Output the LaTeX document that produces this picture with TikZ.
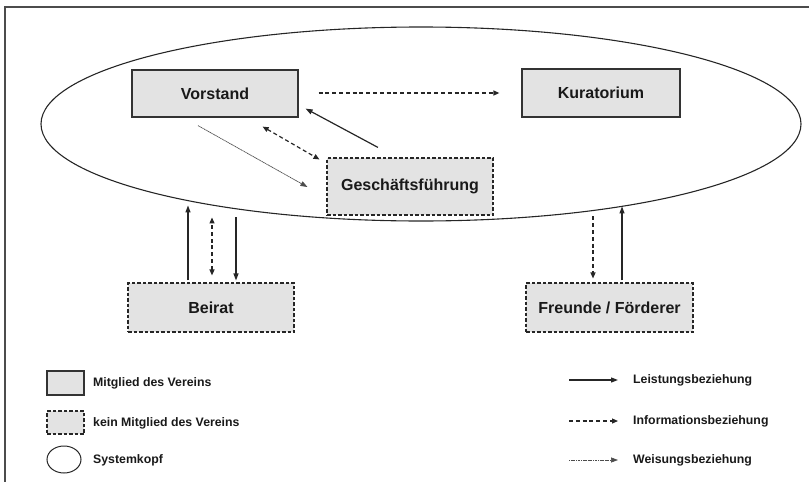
\documentclass[tikz,border=0pt]{standalone}
\usepackage{fontspec}
\setmainfont{Liberation Sans}
\usetikzlibrary{arrows.meta,calc,shapes.geometric}
\begin{document}
\begin{tikzpicture}[x=1pt,y=-1pt,
  member/.style={draw=black!80, line width=1.2pt, fill=black!11, inner sep=0pt,
    font=\fontsize{16}{18}\selectfont\bfseries, text=black!90},
  nonmember/.style={member, draw=black!85, dash pattern=on 3.5pt off 2pt, line width=1.1pt},
  leist/.style={line width=1.2pt, draw=black!85, -{Triangle[length=7pt,width=5pt]}},
  info/.style={line width=1.2pt, draw=black!85, dash pattern=on 4pt off 2.8pt, -{Triangle[length=6pt,width=5pt]}},
  infob/.style={info, {Triangle[length=6pt,width=5pt]}-{Triangle[length=6pt,width=5pt]}},
  weis/.style={line width=0.7pt, draw=black!70, dash pattern=on 1.2pt off 0.5pt, -{Triangle[length=7pt,width=5pt]}},
  legtext/.style={anchor=west, font=\fontsize{12.3}{14}\selectfont\bfseries, text=black!90, inner sep=0pt}
]
\useasboundingbox (0,0) rectangle (809,482);
\draw[line width=1.3pt, black!70] (5,482) -- (5,7) -- (809,7);

% system head
\node[draw=black!85, line width=1.1pt, ellipse, minimum width=760, minimum height=194, inner sep=0pt] (sys) at (421,124) {};

% boxes
\node[member, minimum width=166, minimum height=47] (vor) at (215,93.5) {Vorstand};
\node[member, minimum width=158, minimum height=48] (kur) at (601,93) {Kuratorium};
\node[nonmember, minimum width=166, minimum height=57] (gf) at (410,186.5) {Geschäftsführung};
\node[nonmember, minimum width=166, minimum height=49] (bei) at (211,307.5) {Beirat};
\node[nonmember, minimum width=167, minimum height=49] (fre) at (609.5,307.5) {Freunde / Förderer};

% connectors
\draw[info] ($(vor.east)+(20,-0.5)$) -- ($(kur.west)+(-22,0)$);
\draw[leist] ($(gf.north)+(-32,-10)$) -- ($(vor.south east)+(7,-9)$);
\draw[infob] ($(vor.south east)+(-36,9)$) -- ($(gf.north west)+(-7,2)$);
\draw[weis] ($(vor.south)+(-17,8)$) -- ($(gf.west)+(-19,0.5)$);

\draw[leist] ($(bei.north)+(-23,-2)$) -- ($(bei.north)+(-23,-77)$);
\draw[infob] ($(bei.north)+(1,-7)$) -- ($(bei.north)+(1,-65)$);
\draw[leist] ($(bei.north)+(25,-65)$) -- ($(bei.north)+(25,-2)$);

\draw[info] ($(fre.north)+(-16.5,-66)$) -- ($(fre.north)+(-16.5,-4)$);
\draw[leist] ($(fre.north)+(12.5,-2)$) -- ($(fre.north)+(12.5,-76)$);

% legend left
\node[member, minimum width=37, minimum height=24] (lm) at (65.5,383) {};
\node[legtext] (lmt) at (93,383) {Mitglied des Vereins};
\node[nonmember, minimum width=37, minimum height=23] (ln) at (65.5,422.5) {};
\node[legtext] (lnt) at (93,423) {kein Mitglied des Vereins};
\node[draw=black!85, line width=1pt, ellipse, minimum width=34, minimum height=27, inner sep=0pt] (le) at (64,459.5) {};
\node[legtext] (let) at (93,460) {Systemkopf};

% legend right
\coordinate (l1a) at (569,380); \coordinate (l1b) at (618,380);
\coordinate (l2a) at (569,421); \coordinate (l2b) at (618,421);
\coordinate (l3a) at (569,460); \coordinate (l3b) at (618,460);
\draw[leist] (l1a) -- (l1b);
\draw[info] (l2a) -- (l2b);
\draw[weis] (l3a) -- (l3b);
\node[legtext] (t1) at (633,380) {Leistungsbeziehung};
\node[legtext] (t2) at (633,421) {Informationsbeziehung};
\node[legtext] (t3) at (633,460) {Weisungsbeziehung};
\end{tikzpicture}
\end{document}
